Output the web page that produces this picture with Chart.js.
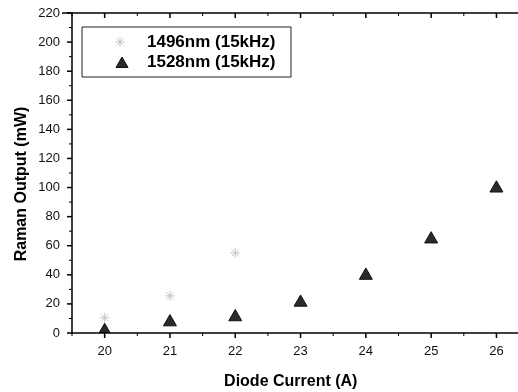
<!DOCTYPE html>
<html>
<head>
<meta charset="utf-8">
<script src="https://cdn.jsdelivr.net/npm/chart.js@4.4.1/dist/chart.umd.min.js"></script>
<style>
  html, body { margin: 0; padding: 0; background: #fff; overflow: hidden; }
  #box { width: 518px; height: 392px; }
</style>
</head>
<body>
<div id="box"><canvas id="grafico" width="518" height="392"></canvas></div>
<script>
// dati
const correnti = [20, 21, 22, 23, 24, 25, 26];
const correnti1496 = [20, 21, 22];
const uscita1496 = [10.5, 25.5, 55];
const uscita1528 = [1.5, 7.5, 11, 21, 39.5, 64.5, 99.5];
const nomiSerie = ["1496nm (15kHz)", "1528nm (15kHz)"];
const titoloX = "Diode Current (A)";
const titoloY = "Raman Output (mW)";

const FONT = "'Liberation Sans', Arial, sans-serif";

// segmento pieno (fillRect, niente stroke)
function linea(ctx, x1, y1, x2, y2, w) {
  if (x1 === x2) ctx.fillRect(x1 - w / 2, Math.min(y1, y2), w, Math.abs(y2 - y1));
  else ctx.fillRect(Math.min(x1, x2), y1 - w / 2, Math.abs(x2 - x1), w);
}

// cornice, tacche maggiori/minori, titolo asse y e legenda
const cornice = {
  id: "cornice",
  afterDraw(chart) {
    const ctx = chart.ctx,
      a = chart.chartArea,
      sx = chart.scales.x,
      sy = chart.scales.y;
    ctx.save();
    ctx.fillStyle = "#000";
    // assi: sinistro, basso, alto (il destro cade fuori dall'immagine)
    linea(ctx, a.left, a.top - 0.75, a.left, a.bottom + 0.75, 1.5);
    linea(ctx, a.left - 0.75, a.bottom, chart.width, a.bottom, 1.5);
    linea(ctx, a.left - 10, a.top, chart.width, a.top, 1.5);

    // tacche asse y (ogni 10, maggiori ogni 20)
    for (let v = sy.min; v <= sy.max + 0.001; v += 10) {
      let py = sy.getPixelForValue(v),
        magg = v % 20 === 0;
      linea(ctx, a.left - (magg ? 5 : 3), py, a.left, py, magg ? 1.5 : 1);
    }
    // tacche asse x (ogni 0.5, maggiori sugli interi)
    for (let v = Math.ceil(sx.min * 2) / 2; v <= sx.max + 0.001; v += 0.5) {
      let px = sx.getPixelForValue(v),
        intero = Math.abs(v - Math.round(v)) < 0.01,
        lung = intero ? 5 : 3;
      linea(ctx, px, a.bottom, px, a.bottom + lung, intero ? 1.5 : 1);
      linea(ctx, px, a.top, px, a.top + lung, intero ? 1.5 : 1);
    }

    // titolo asse y
    ctx.font = "bold 16px " + FONT;
    ctx.textAlign = "center";
    ctx.textBaseline = "middle";
    ctx.translate(22, (a.top + a.bottom) / 2 + 11);
    ctx.rotate(-Math.PI / 2);
    ctx.fillText(titoloY, 0, 0);
    ctx.restore();

    // legenda
    ctx.save();
    let lx = a.left + 10,
      ly = a.top + 14;
    ctx.fillStyle = "#222";
    linea(ctx, lx, ly, lx + 209, ly, 1);
    linea(ctx, lx, ly + 50, lx + 209, ly + 50, 1);
    linea(ctx, lx, ly, lx, ly + 50, 1);
    linea(ctx, lx + 209, ly, lx + 209, ly + 50, 1);
    ctx.font = "bold 17px " + FONT;
    ctx.textAlign = "left";
    ctx.textBaseline = "middle";
    chart.data.datasets.forEach((ds, i) => {
      let cy = ly + 15 + i * 20;
      ctx.fillStyle = ds.backgroundColor;
      ctx.strokeStyle = ds.borderColor;
      ctx.lineWidth = ds.borderWidth;
      Chart.helpers.drawPoint(
        ctx,
        {
          pointStyle: ds.pointStyle,
          radius: ds.pointStyle === "triangle" ? 7 : ds.pointRadius,
          borderWidth: ds.borderWidth,
          rotation: 0,
        },
        lx + (ds.pointStyle === "triangle" ? 40 : 38),
        cy + (ds.pointStyle === "triangle" ? 2 : 0)
      );
      ctx.fillStyle = "#000";
      ctx.fillText(ds.label, lx + 65, cy);
    });
    ctx.restore();
  },
};

new Chart(document.getElementById("grafico"), {
  type: "scatter",
  data: {
    datasets: [
      {
        label: nomiSerie[0],
        data: correnti1496.map((c, i) => ({ x: c, y: uscita1496[i] })),
        pointStyle: "star",
        pointRadius: 5,
        borderWidth: 1,
        borderColor: "#c4c4c4",
        backgroundColor: "rgba(0,0,0,0)",
      },
      {
        label: nomiSerie[1],
        data: correnti.map((c, i) => ({ x: c, y: uscita1528[i] })),
        pointStyle: "triangle",
        pointRadius: 7.5,
        borderWidth: 1,
        borderColor: "#111",
        backgroundColor: "#2a2a2a",
      },
    ],
  },
  options: {
    responsive: false,
    animation: false,
    layout: { padding: { top: 13, right: 0, left: 0, bottom: 0 } },
    plugins: { legend: { display: false }, tooltip: { enabled: false } },
    scales: {
      x: {
        type: "linear",
        min: 19.5,
        max: 26.2,
        afterFit: (s) => {
          s.height = 59;
          s.paddingLeft = 0;
          s.paddingRight = 0;
        },
        grid: { display: false, drawTicks: false },
        border: { display: false },
        ticks: {
          stepSize: 1,
          includeBounds: false,
          padding: 11,
          color: "#111",
          font: { family: FONT, size: 13 },
        },
        title: {
          display: true,
          text: titoloX,
          color: "#000",
          padding: { top: 0, bottom: 1 },
          font: { family: FONT, size: 16, weight: "bold" },
        },
      },
      y: {
        min: 0,
        max: 220,
        afterFit: (s) => {
          s.width = 72;
          s.paddingTop = 0;
          s.paddingBottom = 0;
        },
        grid: { display: false, drawTicks: false },
        border: { display: false },
        ticks: {
          stepSize: 20,
          padding: 12,
          color: "#111",
          font: { family: FONT, size: 13 },
        },
      },
    },
  },
  plugins: [cornice],
});
</script>
</body>
</html>
